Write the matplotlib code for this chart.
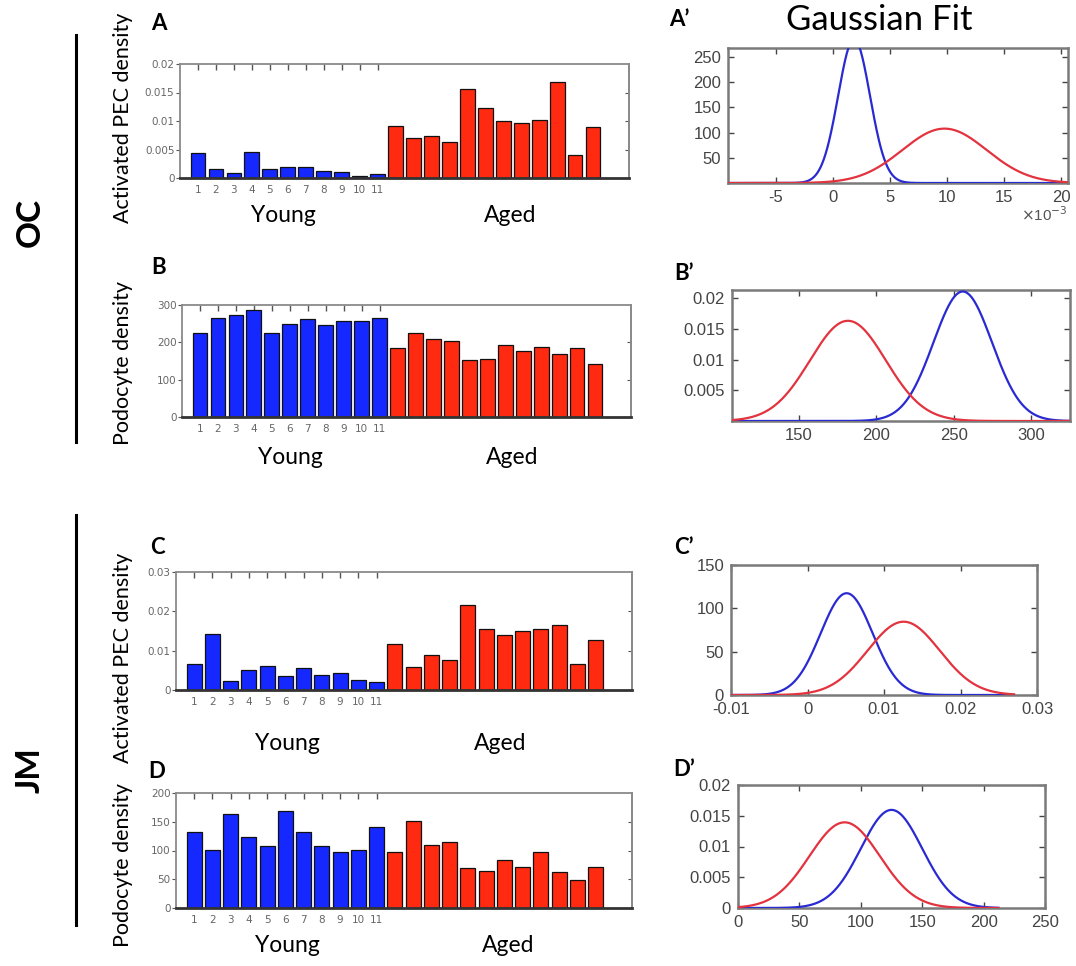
import numpy as np
import matplotlib
matplotlib.use("Agg")
import matplotlib.pyplot as plt
from matplotlib import font_manager

# ---------------- data ----------------
young_labels = [str(i) for i in range(1, 12)]

oc_pec_young = [0.0044, 0.0015, 0.00094, 0.0046, 0.0016, 0.0020, 0.0019, 0.0012, 0.0011, 0.00035, 0.00076]
oc_pec_aged = [0.0091, 0.0070, 0.0073, 0.0063, 0.0156, 0.0123, 0.0100, 0.0097, 0.0102, 0.0168, 0.0040, 0.0090]

oc_pod_young = [226, 266, 273, 287, 224, 248, 263, 247, 257, 257, 266]
oc_pod_aged = [184, 225, 209, 203, 153, 155, 193, 176, 188, 169, 184, 142]

jm_pec_young = [0.0066, 0.0143, 0.0024, 0.0051, 0.0061, 0.0035, 0.0055, 0.0039, 0.0042, 0.0026, 0.0021]
jm_pec_aged = [0.0116, 0.0058, 0.0088, 0.0076, 0.0217, 0.0154, 0.0139, 0.0151, 0.0154, 0.0164, 0.0065, 0.0126]

jm_pod_young = [132, 101, 164, 124, 107, 168, 132, 107, 98, 101, 141]
jm_pod_aged = [97, 151, 110, 115, 69, 64, 84, 71, 98, 63, 49, 71]

# ---------------- style ----------------
W, H = 1076, 966
BLUE = "#1428ff"
RED = "#ff2a10"
CBLUE = "#2a2ad2"
CRED = "#e2333f"
GRAY_SPINE = "#8a8a8a"

names = {f.name for f in font_manager.fontManager.ttflist}
NARROW = "Liberation Sans Narrow" if "Liberation Sans Narrow" in names else "DejaVu Sans"
SANS = "Liberation Sans" if "Liberation Sans" in names else "DejaVu Sans"
TXT = "Lato" if "Lato" in names else "DejaVu Sans"

fig = plt.figure(figsize=(W / 100, H / 100), dpi=100)


def ax_px(left, top, right, bottom):
    return fig.add_axes([left / W, 1 - bottom / H, (right - left) / W, (bottom - top) / H])


def ftext(x, y, s, **kw):
    fig.text(x / W, 1 - y / H, s, **kw)


def bar_panel(box, young, aged, ymax, yticks, yticklabels):
    ax = ax_px(*box)
    xy = np.arange(1, len(young) + 1)
    xa = np.arange(len(young) + 1, len(young) + len(aged) + 1)
    ax.bar(xy, young, width=0.82, color=BLUE, edgecolor="#111111", linewidth=0.9, zorder=2)
    ax.bar(xa, aged, width=0.82, color=RED, edgecolor="#111111", linewidth=0.9, zorder=2)
    ax.set_xlim(0, 25)
    ax.set_ylim(0, ymax)
    ax.set_xticks(xy)
    ax.set_xticklabels(young_labels, fontsize=7.5, color="#666666", family=NARROW)
    ax.tick_params(axis="x", direction="in", top=True, bottom=False, length=4,
                   width=1, color="#555555", pad=5)
    ax.set_yticks(yticks)
    ax.set_yticklabels(yticklabels, fontsize=7.5, color="#666666", family=NARROW)
    ax.tick_params(axis="y", direction="out", left=True, length=3, width=0.8,
                   color="#555555", pad=1)
    sec = ax.secondary_yaxis("right")
    sec.set_yticks(yticks[1:-1])
    sec.tick_params(axis="y", direction="in", length=3, width=0.8, color="#555555",
                    labelright=False)
    sec.spines["right"].set_color(GRAY_SPINE)
    sec.spines["right"].set_linewidth(1.3)
    for s in ("left", "top", "right"):
        ax.spines[s].set_color(GRAY_SPINE)
        ax.spines[s].set_linewidth(1.3)
    ax.spines["bottom"].set_color("#333333")
    ax.spines["bottom"].set_linewidth(2.0)
    ax.spines["bottom"].set_zorder(3)
    return ax


def gauss(x, mu, sd):
    return np.exp(-0.5 * ((x - mu) / sd) ** 2) / (sd * np.sqrt(2 * np.pi))


def fit_panel(box, young, aged, xlim, xcurve, ylim, xticks, xticklabels, yticks, yticklabels):
    ax = ax_px(*box)
    x = np.linspace(xcurve[0], xcurve[1], 600)
    my, sy = np.mean(young), np.std(young, ddof=1)
    ma, sa = np.mean(aged), np.std(aged, ddof=1)
    ax.plot(x, gauss(x, my, sy), color=CBLUE, lw=1.6, zorder=3)
    ax.plot(x, gauss(x, ma, sa), color=CRED, lw=1.6, zorder=3)
    ax.set_xlim(*xlim)
    ax.set_ylim(*ylim)
    ax.set_xticks(xticks)
    ax.set_xticklabels(xticklabels)
    ax.set_yticks(yticks)
    ax.set_yticklabels(yticklabels)
    ax.tick_params(direction="in", top=True, right=True, length=4, width=1,
                   color="#444444", labelsize=12, labelcolor="#444444", pad=5)
    for lbl in ax.get_xticklabels() + ax.get_yticklabels():
        lbl.set_family(SANS)
    for s in ax.spines.values():
        s.set_color("#7a7a7a")
        s.set_linewidth(1.8)
    return ax


# ---------------- bar panels ----------------
bar_panel((180, 64, 629, 178), oc_pec_young, oc_pec_aged, 0.02,
          [0, 0.005, 0.01, 0.015, 0.02], ["0", "0.005", "0.01", "0.015", "0.02"])
bar_panel((182, 305, 631, 417), oc_pod_young, oc_pod_aged, 300,
          [0, 100, 200, 300], ["0", "100", "200", "300"])
bar_panel((176, 572, 632, 690), jm_pec_young, jm_pec_aged, 0.03,
          [0, 0.01, 0.02, 0.03], ["0", "0.01", "0.02", "0.03"])
bar_panel((176, 793, 632, 908), jm_pod_young, jm_pod_aged, 200,
          [0, 50, 100, 150, 200], ["0", "50", "100", "150", "200"])

# ---------------- gaussian fit panels ----------------
fit_panel((728, 48, 1068, 183), oc_pec_young, oc_pec_aged,
          (-0.0092, 0.0206), (-0.0092, 0.0206), (0, 268),
          [-0.005, 0, 0.005, 0.01, 0.015, 0.02], ["-5", "0", "5", "10", "15", "20"],
          [50, 100, 150, 200, 250], ["50", "100", "150", "200", "250"])
fit_panel((732, 290, 1070, 421), oc_pod_young, oc_pod_aged,
          (107, 325), (107, 325), (0, 0.02136),
          [150, 200, 250, 300], ["150", "200", "250", "300"],
          [0.005, 0.01, 0.015, 0.02], ["0.005", "0.01", "0.015", "0.02"])
fit_panel((731, 565, 1037, 695), jm_pec_young, jm_pec_aged,
          (-0.01, 0.03), (-0.01, 0.027), (0, 150),
          [-0.01, 0, 0.01, 0.02, 0.03], ["-0.01", "0", "0.01", "0.02", "0.03"],
          [0, 50, 100, 150], ["0", "50", "100", "150"])
fit_panel((738, 785, 1045, 908), jm_pod_young, jm_pod_aged,
          (0, 250), (0, 212), (0, 0.02),
          [0, 50, 100, 150, 200, 250], ["0", "50", "100", "150", "200", "250"],
          [0, 0.005, 0.01, 0.015, 0.02], ["0", "0.005", "0.01", "0.015", "0.02"])

ftext(1044, 215, r"$\times$10$^{-3}$", fontsize=11, color="#555555", family=SANS,
      ha="center", va="center")

# ---------------- texts ----------------
for x, y, s in [(283, 215, "Young"), (510, 215, "Aged"),
                (290, 457, "Young"), (512, 457, "Aged"),
                (287, 743, "Young"), (500, 743, "Aged"),
                (287, 946, "Young"), (508, 946, "Aged")]:
    ftext(x, y, s, fontsize=16.5, family=TXT, ha="center", va="center")

for x, y, s in [(123, 118, "Activated PEC density"), (123, 363, "Podocyte density"),
                (123, 658, "Activated PEC density"), (123, 865, "Podocyte density")]:
    ftext(x, y, s, fontsize=15.5, family=TXT, rotation=90, ha="center", va="center")

for x, y, s in [(159, 23, "A"), (159, 267, "B"), (157, 548, "C"), (157, 772, "D"),
                (679, 20, "A\u2019"), (684, 274, "B\u2019"), (684, 548, "C\u2019"),
                (684, 770, "D\u2019")]:
    ftext(x, y, s, fontsize=16, family=TXT, weight="bold", ha="center", va="center")

ftext(879, 20, "Gaussian Fit", fontsize=25, family=TXT, ha="center", va="center")

ftext(30, 222, "OC", fontsize=24, family=TXT, weight="bold", rotation=90,
      ha="center", va="center")
ftext(30, 770, "JM", fontsize=24, family=TXT, weight="bold", rotation=90,
      ha="center", va="center")

fig.add_artist(plt.Line2D([76 / W, 76 / W], [1 - 35 / H, 1 - 442 / H], color="black", lw=2.2))
fig.add_artist(plt.Line2D([76 / W, 76 / W], [1 - 515 / H, 1 - 925 / H], color="black", lw=2.2))

fig.savefig("out.png", dpi=100)
